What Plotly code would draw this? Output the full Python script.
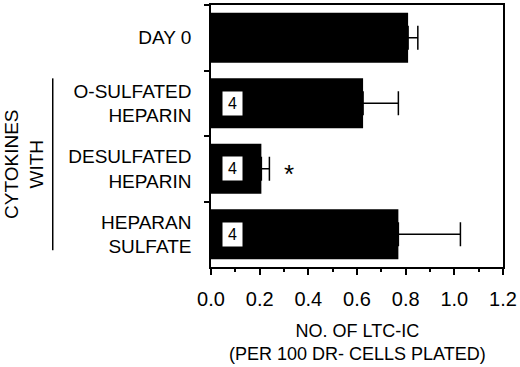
import plotly.graph_objects as go

categories = ["DAY 0", "O-SULFATED<br>HEPARIN", "DESULFATED<br>HEPARIN", "HEPARAN<br>SULFATE"]
values = [0.81, 0.625, 0.207, 0.77]
errors = [0.04, 0.145, 0.033, 0.255]
n_labels = ["", "4", "4", "4"]
x_ticks = [0.0, 0.2, 0.4, 0.6, 0.8, 1.0, 1.2]
x_ticktext = ["0.0", "0.2", "0.4", "0.6", "0.8", "1.0", "1.2"]

FONT = "Liberation Sans, Arial, Helvetica, sans-serif"

fig = go.Figure()
fig.add_trace(go.Bar(
    y=categories, x=values, orientation="h",
    marker=dict(color="black", line=dict(width=0)),
    width=0.76,
    error_x=dict(type="data", array=errors, arrayminus=[0] * len(errors),
                 symmetric=False, color="black", thickness=1.5, width=12),
    showlegend=False, hoverinfo="skip",
))

annotations = []
for cat, lab in zip(categories, n_labels):
    if lab:
        annotations.append(dict(
            x=0.09, y=cat, xref="x", yref="y", text=lab, showarrow=False,
            font=dict(family=FONT, size=16, color="black"),
            bgcolor="white", width=15, height=19, borderpad=2,
        ))

annotations.append(dict(
    x=0.32, y=categories[2], xref="x", yref="y", text="*", showarrow=False,
    font=dict(family=FONT, size=26, color="black"), yshift=-5,
))

annotations.append(dict(
    x=-0.64, y=0.39, xref="paper", yref="paper", text="CYTOKINES<br>WITH",
    showarrow=False, textangle=-90, xanchor="center", yanchor="middle",
    font=dict(family=FONT, size=19, color="black"),
))

annotations.append(dict(
    x=0.5, y=-0.29, xref="paper", yref="paper",
    text="NO. OF LTC-IC<br>(PER 100 DR- CELLS PLATED)",
    showarrow=False, xanchor="center", yanchor="middle",
    font=dict(family=FONT, size=18, color="black"),
))

fig.update_layout(
    width=520, height=367,
    margin=dict(l=211, r=17, t=3, b=100),
    paper_bgcolor="white", plot_bgcolor="white",
    font=dict(family=FONT, color="black"),
    annotations=annotations,
    shapes=[dict(type="line", xref="paper", yref="paper",
                 x0=-0.542, x1=-0.542, y0=0.064, y1=0.72,
                 line=dict(color="black", width=1.5))],
)

fig.update_xaxes(
    range=[0, 1.2], tickvals=x_ticks, ticktext=x_ticktext,
    ticks="outside", ticklen=6, tickwidth=1.5, tickcolor="black",
    showline=True, linecolor="black", linewidth=1.5, mirror=True,
    showgrid=False, zeroline=False, ticklabelstandoff=7,
    tickfont=dict(family=FONT, size=20, color="black"),
    minor=dict(dtick=0.1, tick0=0, ticks="outside", ticklen=3, tickwidth=1.5,
               tickcolor="black", showgrid=False),
)

fig.update_yaxes(
    type="category", categoryorder="array", categoryarray=categories,
    autorange="reversed", tickson="boundaries",
    ticks="outside", ticklen=5, tickwidth=1.5, tickcolor="black",
    showline=True, linecolor="black", linewidth=1.5, mirror=True,
    showgrid=False, zeroline=False, ticklabelstandoff=14,
    tickfont=dict(family=FONT, size=19, color="black"),
)

fig.write_html(
    "out.html",
    config={"displayModeBar": False},
    post_script="document.body.style.margin='0';"
                "var gd=document.getElementById('{plot_id}');"
                "gd.style.position='fixed';gd.style.left='0px';gd.style.top='0px';",
)
